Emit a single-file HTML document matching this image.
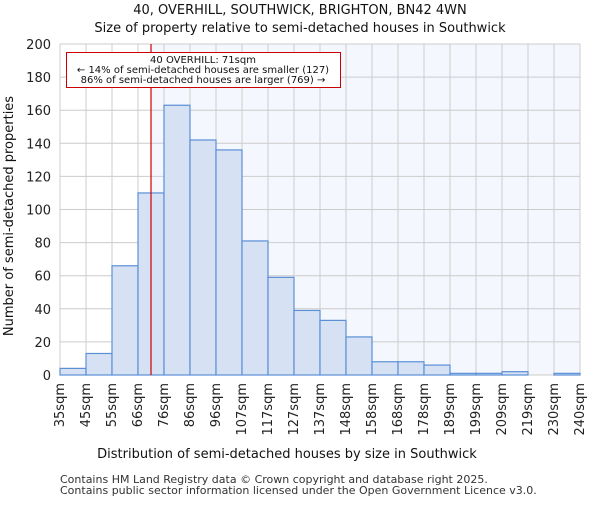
<!DOCTYPE html>
<html><head><meta charset="utf-8"><style>body{margin:0;background:#fff}svg{font-family:"DejaVu Sans","Liberation Sans",sans-serif}</style></head>
<body>
<svg id="c" width="600" height="500"></svg>
<script>
const categories=["35sqm","45sqm","55sqm","66sqm","76sqm","86sqm","96sqm","107sqm","117sqm","127sqm","137sqm","148sqm","158sqm","168sqm","178sqm","189sqm","199sqm","209sqm","219sqm","230sqm","240sqm"];
const counts=[4,13,66,110,163,142,136,81,59,39,33,23,8,8,6,1,1,2,0,1];
const yTicks=[0,20,40,60,80,100,120,140,160,180,200];
const propertyBinPos=3.5;
const L=60,R=580,T=44,B=375,yMax=200;
const bw=(R-L)/counts.length;
const xs=i=>L+i*bw, ys=v=>B-(v/yMax)*(B-T);
const svg=document.getElementById('c');const NS='http://www.w3.org/2000/svg';
function mk(t,a,txt){const e=document.createElementNS(NS,t);for(const k in a)e.setAttribute(k,a[k]);if(txt!=null)e.textContent=txt;svg.appendChild(e);return e;}
const mx=xs(propertyBinPos);
let e=mk('rect',{x:L,y:T,width:R-L,height:B-T,fill:'#fff'});


e=mk('rect',{x:mx,y:T,width:R-mx,height:B-T,fill:'#f4f7fd'});


yTicks.forEach(v=>{e=mk('line',{x1:L,x2:R,y1:ys(v),y2:ys(v),stroke:'#cccccc'});


e=mk('text',{x:L-9,y:ys(v)+5,'text-anchor':'end','font-size':13,fill:'#222'},v);

});
categories.forEach((c,i)=>{e=mk('line',{x1:xs(i),x2:xs(i),y1:T,y2:B,stroke:'#cccccc'});


const x=xs(i)+4;e=mk('text',{x:x,y:B+8,'text-anchor':'end','font-size':13,fill:'#222',transform:`rotate(-90 ${x} ${B+8})`},c);

});
counts.forEach((v,i)=>{e=mk('rect',{x:xs(i),y:ys(v),width:bw,height:B-ys(v),fill:'#d6e1f4',stroke:'#5a8fd6','stroke-width':1.2});

});
e=mk('line',{x1:mx,x2:mx,y1:T,y2:B,stroke:'#cc0000','stroke-width':1.2});


e=mk('rect',{x:66.5,y:52.5,width:274,height:35,fill:'#fff',stroke:'#cc0000'});


[["40 OVERHILL: 71sqm",63],["← 14% of semi-detached houses are smaller (127)",73],["86% of semi-detached houses are larger (769) →",83]].forEach(([t,y])=>{e=mk('text',{x:203,y:y,'text-anchor':'middle','font-size':10,fill:'#111'},t);

});
e=mk('text',{x:300,y:14,'text-anchor':'middle','font-size':13,fill:'#111'},"40, OVERHILL, SOUTHWICK, BRIGHTON, BN42 4WN");


e=mk('text',{x:300,y:32,'text-anchor':'middle','font-size':13,fill:'#111'},"Size of property relative to semi-detached houses in Southwick");


e=mk('text',{x:287,y:458,'text-anchor':'middle','font-size':13,fill:'#111'},"Distribution of semi-detached houses by size in Southwick");


e=mk('text',{x:13,y:216,'text-anchor':'middle','font-size':13,fill:'#111',transform:'rotate(-90 13 216)'},"Number of semi-detached properties");


e=mk('text',{x:60,y:483,'font-size':11,fill:'#333'},"Contains HM Land Registry data © Crown copyright and database right 2025.");


e=mk('text',{x:60,y:494,'font-size':11,fill:'#333'},"Contains public sector information licensed under the Open Government Licence v3.0.");


</script>
</body></html>
